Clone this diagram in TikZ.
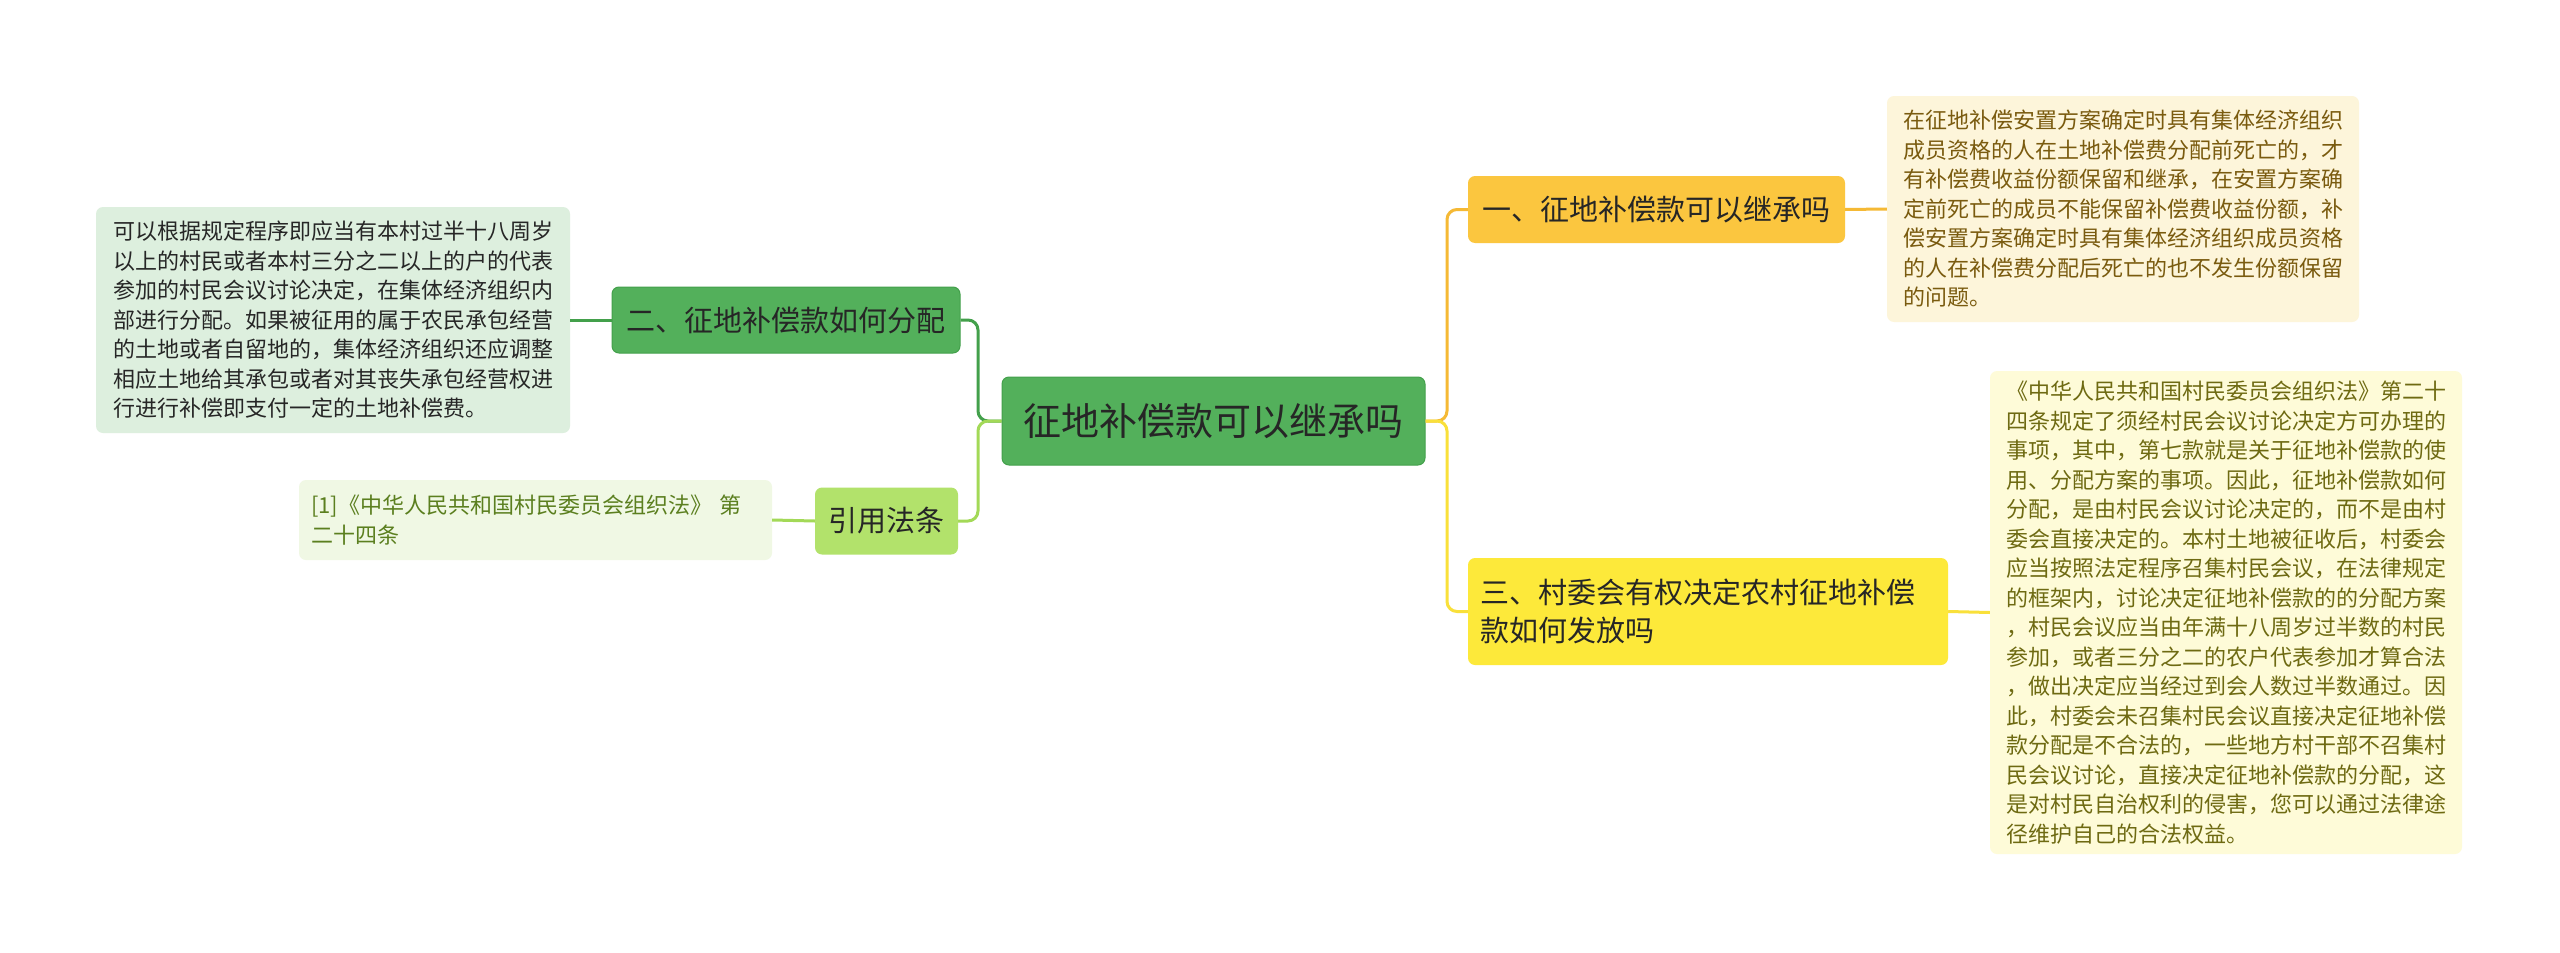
\documentclass[tikz,border=0pt]{standalone}
\usepackage{fontspec}
\setmainfont{Noto Sans CJK SC}
\definecolor{cgreen}{HTML}{53B05B}
\definecolor{cgreenb}{HTML}{43A04B}
\definecolor{lgreen}{HTML}{B2E26B}
\definecolor{lgreenline}{HTML}{A3D957}
\definecolor{leafgreen}{HTML}{DDEFDE}
\definecolor{leafref}{HTML}{F0F8E4}
\definecolor{reftext}{HTML}{5B7F1F}
\definecolor{gold}{HTML}{FBC63F}
\definecolor{goldline}{HTML}{F5B935}
\definecolor{leafgold}{HTML}{FDF5DA}
\definecolor{goldtext}{HTML}{7A5B0F}
\definecolor{yel}{HTML}{FDE93A}
\definecolor{yelline}{HTML}{F9E03A}
\definecolor{leafyel}{HTML}{FEFBD8}
\definecolor{yeltext}{HTML}{6E6A12}
\definecolor{dark}{HTML}{262626}
\tikzset{
  box/.style={rounded corners=7pt, inner sep=0pt, align=left, text=dark},
  leaf/.style={box, font=\fontsize{22}{29.5}\selectfont},
  branch/.style={box, font=\fontsize{29}{38}\selectfont},
  conn/.style={line width=3pt, rounded corners=10pt},
}
\begin{document}
\begin{tikzpicture}[x=1pt,y=-1pt]
\useasboundingbox[fill=white] (0,0) rectangle (2560,953);
% connectors (drawn first, under the boxes)
\coordinate (jl) at (978,421);
\coordinate (jr) at (1447,421);
\coordinate (jl2) at (978,320);
\coordinate (jlr) at (978,521);
\coordinate (jr1) at (1447,209.5);
\coordinate (jr3) at (1447,611.5);
% central
\node[box, fill=cgreen, draw=cgreenb, line width=1pt, minimum width=423pt, minimum height=88pt, font=\fontsize{38}{44}\selectfont] (c) at (1213.5,421) {征地补偿款可以继承吗};
% left branches
\node[branch, fill=cgreen, draw=cgreenb, line width=1pt, minimum width=348pt, minimum height=66pt] (b2) at (786,320) {二、征地补偿款如何分配};
\node[branch, fill=lgreen, minimum width=143pt, minimum height=67pt] (bref) at (886.5,521) {引用法条};
\node[leaf, fill=leafgreen, minimum width=474pt, minimum height=226pt] (l2) at (333,320) {可以根据规定程序即应当有本村过半十八周岁\\以上的村民或者本村三分之二以上的户的代表\\参加的村民会议讨论决定，在集体经济组织内\\部进行分配。如果被征用的属于农民承包经营\\的土地或者自留地的，集体经济组织还应调整\\相应土地给其承包或者对其丧失承包经营权进\\行进行补偿即支付一定的土地补偿费。};
\node[leaf, fill=leafref, text=reftext, minimum width=473pt, minimum height=80pt, text width=449pt] (lref) at (535.5,520) {[1]《中华人民共和国村民委员会组织法》 第\\二十四条};
% right branches
\node[branch, fill=gold, minimum width=377pt, minimum height=67pt] (b1) at (1656.5,209.5) {一、征地补偿款可以继承吗};
\node[branch, fill=yel, minimum width=480pt, minimum height=107pt, text width=456pt] (b3) at (1708,611.5) {三、村委会有权决定农村征地补偿\\款如何发放吗};
\node[leaf, fill=leafgold, text=goldtext, minimum width=472pt, minimum height=226pt] (l1) at (2123,209) {在征地补偿安置方案确定时具有集体经济组织\\成员资格的人在土地补偿费分配前死亡的，才\\有补偿费收益份额保留和继承，在安置方案确\\定前死亡的成员不能保留补偿费收益份额，补\\偿安置方案确定时具有集体经济组织成员资格\\的人在补偿费分配后死亡的也不发生份额保留\\的问题。};
\node[leaf, fill=leafyel, text=yeltext, minimum width=472pt, minimum height=483pt] (l3) at (2226,612.5) {《中华人民共和国村民委员会组织法》第二十\\四条规定了须经村民会议讨论决定方可办理的\\事项，其中，第七款就是关于征地补偿款的使\\用、分配方案的事项。因此，征地补偿款如何\\分配，是由村民会议讨论决定的，而不是由村\\委会直接决定的。本村土地被征收后，村委会\\应当按照法定程序召集村民会议，在法律规定\\的框架内，讨论决定征地补偿款的的分配方案\\，村民会议应当由年满十八周岁过半数的村民\\参加，或者三分之二的农户代表参加才算合法\\，做出决定应当经过到会人数过半数通过。因\\此，村委会未召集村民会议直接决定征地补偿\\款分配是不合法的，一些地方村干部不召集村\\民会议讨论，直接决定征地补偿款的分配，这\\是对村民自治权利的侵害，您可以通过法律途\\径维护自己的合法权益。};
% connectors
\draw[conn, cgreenb] (c.west) -- (jl) -- (jl2) -- (b2.east);
\draw[conn, lgreenline] (c.west) -- (jl) -- (jlr) -- (bref.east);
\draw[conn, goldline] (c.east) -- (jr) -- (jr1) -- (b1.west);
\draw[conn, yelline] (c.east) -- (jr) -- (jr3) -- (b3.west);
\draw[line width=3pt, cgreenb] (b2.west) -- (l2.east);
\draw[line width=3pt, lgreenline] (bref.west) -- (lref.east);
\draw[line width=3pt, goldline] (b1.east) -- (l1.west);
\draw[line width=3pt, yelline] (b3.east) -- (l3.west);
\end{tikzpicture}
\end{document}
